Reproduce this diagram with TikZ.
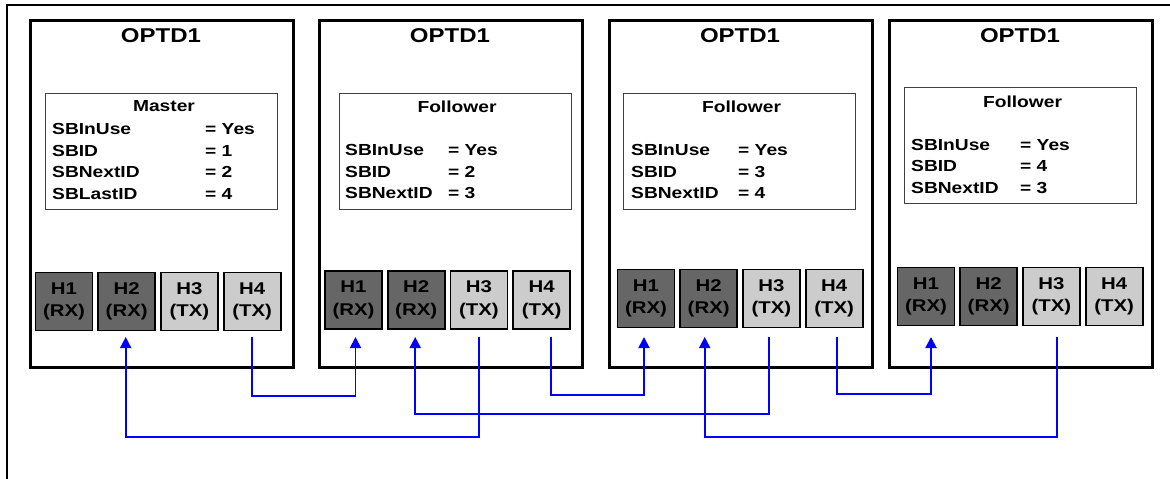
\documentclass[tikz,border=0pt]{standalone}
\usepackage{fontspec}
\setmainfont{Liberation Sans}[FakeStretch=1.2]
\usetikzlibrary{positioning,arrows.meta}
\definecolor{rxfill}{HTML}{666666}
\definecolor{txfill}{HTML}{CCCCCC}
\definecolor{linkblue}{HTML}{0000FF}

\begin{document}
\begin{tikzpicture}[x=1pt, y=-1pt,
  optd/.style={draw, line width=3pt, fill=white, minimum width=263pt, minimum height=347pt, inner sep=0pt},
  optdtitle/.style={font=\fontsize{20}{24}\selectfont\bfseries, inner sep=0pt},
  infobox/.style={draw=black!75, line width=1pt, minimum width=232pt, minimum height=116pt, inner sep=0pt},
  infohead/.style={font=\fontsize{16}{21.5}\selectfont\bfseries, inner sep=0pt},
  fields/.style={font=\fontsize{16}{21.5}\selectfont\bfseries, inner sep=0pt, anchor=base west},
  port/.style={draw, line width=1.8pt, fill=#1, minimum width=57pt, minimum height=58pt, inner sep=0pt, align=center, font=\fontsize{17}{22.5}\selectfont\bfseries},
  port/.default=txfill,
  link/.style={draw=linkblue, line width=1.9pt},
  >={Triangle[length=11pt, width=11pt]}]
\useasboundingbox (0,0) rectangle (1170,479);
\clip (0,0) rectangle (1170,479);
% outer frame, cut at the right and bottom
\draw[line width=2pt] (7,5) rectangle (1200,500);
% the four units with their ports
\foreach \b/\x/\y/\f in {1/30/301.5/34, 2/319/300/34.5, 3/609/298.5/37, 4/889/296.5/37} {
  \node[optd] (o\b) at (\x+131.5,194) {};
  \node[optdtitle] (t\b) at (\x+131,36) {OPTD1};
  \foreach \i/\m/\c in {1/RX/rxfill, 2/RX/rxfill, 3/TX/txfill, 4/TX/txfill}
    \node[port=\c] (p\b\i) at (\x+\f+62.7*\i-62.7,\y) {H\i\\(\m)};
}
% master settings
\node[infobox] (i1) at (161,151) {};
\node[infohead] (m1) at (164,106) {Master};
\node[fields] (f1) at (52,134.5) {\begin{tabular}[t]{@{}p{153pt}@{}l@{}}
  SBInUse & = Yes\\ SBID & = 1\\ SBNextID & = 2\\ SBLastID & = 4\end{tabular}};
% follower settings
\foreach \n/\cx/\cy/\lx/\w/\sid/\nid in {2/455/151/345/103/2/3, 3/739.5/151/631/107/3/4, 4/1020.5/145.5/911/109/4/3} {
  \node[infobox] (i\n) at (\cx,\cy) {};
  \node[infohead] (m\n) at (\cx+2,\cy-44) {Follower};
  \node[fields] (f\n) at (\lx,\cy+4.5) {\begin{tabular}[t]{@{}p{\w pt}@{}l@{}}
    SBInUse & = Yes\\ SBID & = \sid\\ SBNextID & = \nid\end{tabular}};
}
% TX to RX links
\foreach \a/\sx/\b/\tx/\lv in {p14/0/p21/2/396, p23/0/p12/-1/437, p24/9/p31/-2/395,
    p33/-2/p22/-1/414, p34/3/p41/5/394, p43/6/p32/-4/437} {
  \path ([xshift=\sx pt]\a.south) coordinate (s) ([xshift=\tx pt]\b.south) coordinate (e);
  \draw[link,->] (s |- 0,337) -- (s |- 0,\lv) -| (e |- 0,337);
}
\end{tikzpicture}
\end{document}
